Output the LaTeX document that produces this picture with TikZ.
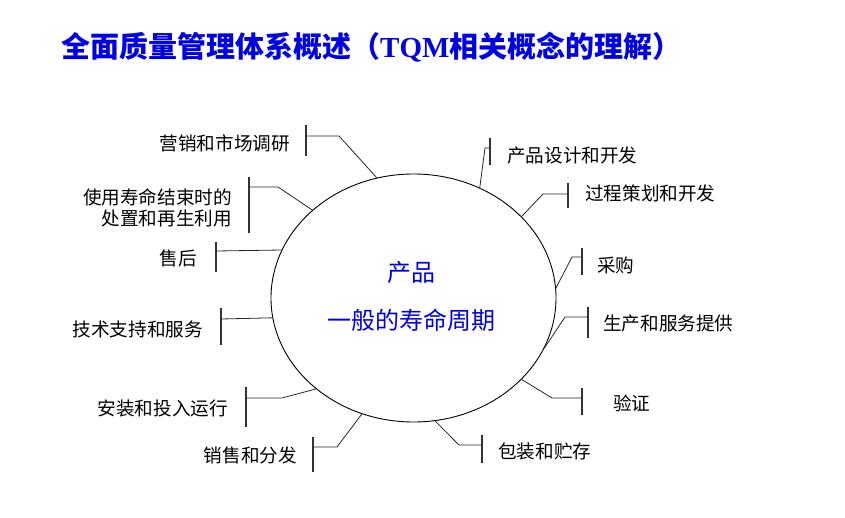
\documentclass[tikz,border=0pt]{standalone}
\usepackage{fontspec}
\usetikzlibrary{shapes.geometric}
\newfontfamily\cjk{Noto Sans CJK SC}
\newfontfamily\tnr{Liberation Serif}
\definecolor{titleblue}{RGB}{0,0,230}
\begin{document}
\begin{tikzpicture}[x=1pt,y=-1pt,
  conn/.style={draw=black!85,line width=0.8pt,line join=miter},
  barline/.style={draw=black!80,line width=1.1pt},
  lbl/.style={inner sep=0pt,font=\cjk\fontsize{18.6}{21}\selectfont},
  lleft/.style={lbl,anchor=east},
  lright/.style={lbl,anchor=west},
  ctext/.style={inner sep=0pt,text=titleblue,font=\cjk\fontsize{24}{28}\selectfont}]
\useasboundingbox (0,0) rectangle (845,518);
% title
\node[anchor=west,inner sep=0pt,text=titleblue,font=\cjk\bfseries\fontsize{29}{33}\selectfont] (title) at (61,47)
  {全面质量管理体系概述（{\tnr\bfseries TQM}相关概念的理解）};
% ellipse
\node[draw,line width=0.9pt,ellipse,minimum width=285,minimum height=248,inner sep=0pt] (ell) at (413.5,298) {};
\node[ctext] (c1) at (411,272) {产品};
\node[ctext] (c2) at (411,320) {一般的寿命周期};
% left labels
\node[lleft] (l1) at (290,143) {营销和市场调研};
\node[lleft,align=right] (l2) at (232,207.5) {使用寿命结束时的\\处置和再生利用};
\node[lleft] (l3) at (197,258) {售后};
\node[lleft] (l4) at (203,329) {技术支持和服务};
\node[lleft] (l5) at (228,408) {安装和投入运行};
\node[lleft] (l6) at (297,455) {销售和分发};
% right labels
\node[lright] (r1) at (507,155) {产品设计和开发};
\node[lright] (r2) at (585,193) {过程策划和开发};
\node[lright] (r3) at (597,265) {采购};
\node[lright] (r4) at (603,323) {生产和服务提供};
\node[lright] (r5) at (613,403) {验证};
\node[lright] (r6) at (498,451) {包装和贮存};
% bars (top/bottom coordinates) and knees
\coordinate (bl1t) at (306,125); \coordinate (bl1b) at (306,156); \coordinate (bl1) at (306,136); \coordinate (kl1) at (339,136);
\coordinate (bl2t) at (249,177); \coordinate (bl2b) at (249,233); \coordinate (bl2) at (249,187); \coordinate (kl2) at (278,187);
\coordinate (bl3t) at (216,242); \coordinate (bl3b) at (216,272); \coordinate (bl3) at (216,251);
\coordinate (bl4t) at (221,308); \coordinate (bl4b) at (221,345); \coordinate (bl4) at (221,319);
\coordinate (bl5t) at (246,387); \coordinate (bl5b) at (246,427); \coordinate (bl5) at (246,398); \coordinate (kl5) at (282,398);
\coordinate (bl6t) at (313,437); \coordinate (bl6b) at (313,472); \coordinate (bl6) at (313,447); \coordinate (kl6) at (337,447);
\coordinate (br1t) at (490,138); \coordinate (br1b) at (490,165); \coordinate (br1) at (490,148); \coordinate (kr1) at (485,148);
\coordinate (br2t) at (568,183); \coordinate (br2b) at (568,208); \coordinate (br2) at (568,194); \coordinate (kr2) at (543,194);
\coordinate (br3t) at (582,248); \coordinate (br3b) at (582,275); \coordinate (br3) at (582,257); \coordinate (kr3) at (572,257);
\coordinate (br4t) at (588,307); \coordinate (br4b) at (588,338); \coordinate (br4) at (588,317); \coordinate (kr4) at (565,317);
\coordinate (br5t) at (582,388); \coordinate (br5b) at (582,415); \coordinate (br5) at (582,398); \coordinate (kr5) at (552,398);
\coordinate (br6t) at (482,435); \coordinate (br6b) at (482,463); \coordinate (br6) at (482,445); \coordinate (kr6) at (459,445);
\foreach \b in {bl1,bl2,bl3,bl4,bl5,bl6,br1,br2,br3,br4,br5,br6}{\draw[barline] (\b t) -- (\b b);}
% connectors
\draw[conn] (ell.107.9) -- (kl1) -- (bl1);
\draw[conn] (ell.139.1) -- (kl2) -- (bl2);
\draw[conn] (ell.160.9) -- (bl3);
\draw[conn] (ell.188.1) -- (bl4);
\draw[conn] (ell.223.9) -- (kl5) -- (bl5);
\draw[conn] (ell.246.7) -- (kl6) -- (bl6);
\draw[conn] (ell.59.8) -- (kr1) -- (br1);
\draw[conn] (ell.37.9) -- (kr2) -- (br2);
\draw[conn] (ell.4.4) -- (kr3) -- (br3);
\draw[conn] (ell.-21.1) -- (kr4) -- (br4);
\draw[conn] (ell.-37.3) -- (kr5) -- (br5);
\draw[conn] (ell.-80.6) -- (kr6) -- (br6);
\end{tikzpicture}
\end{document}
